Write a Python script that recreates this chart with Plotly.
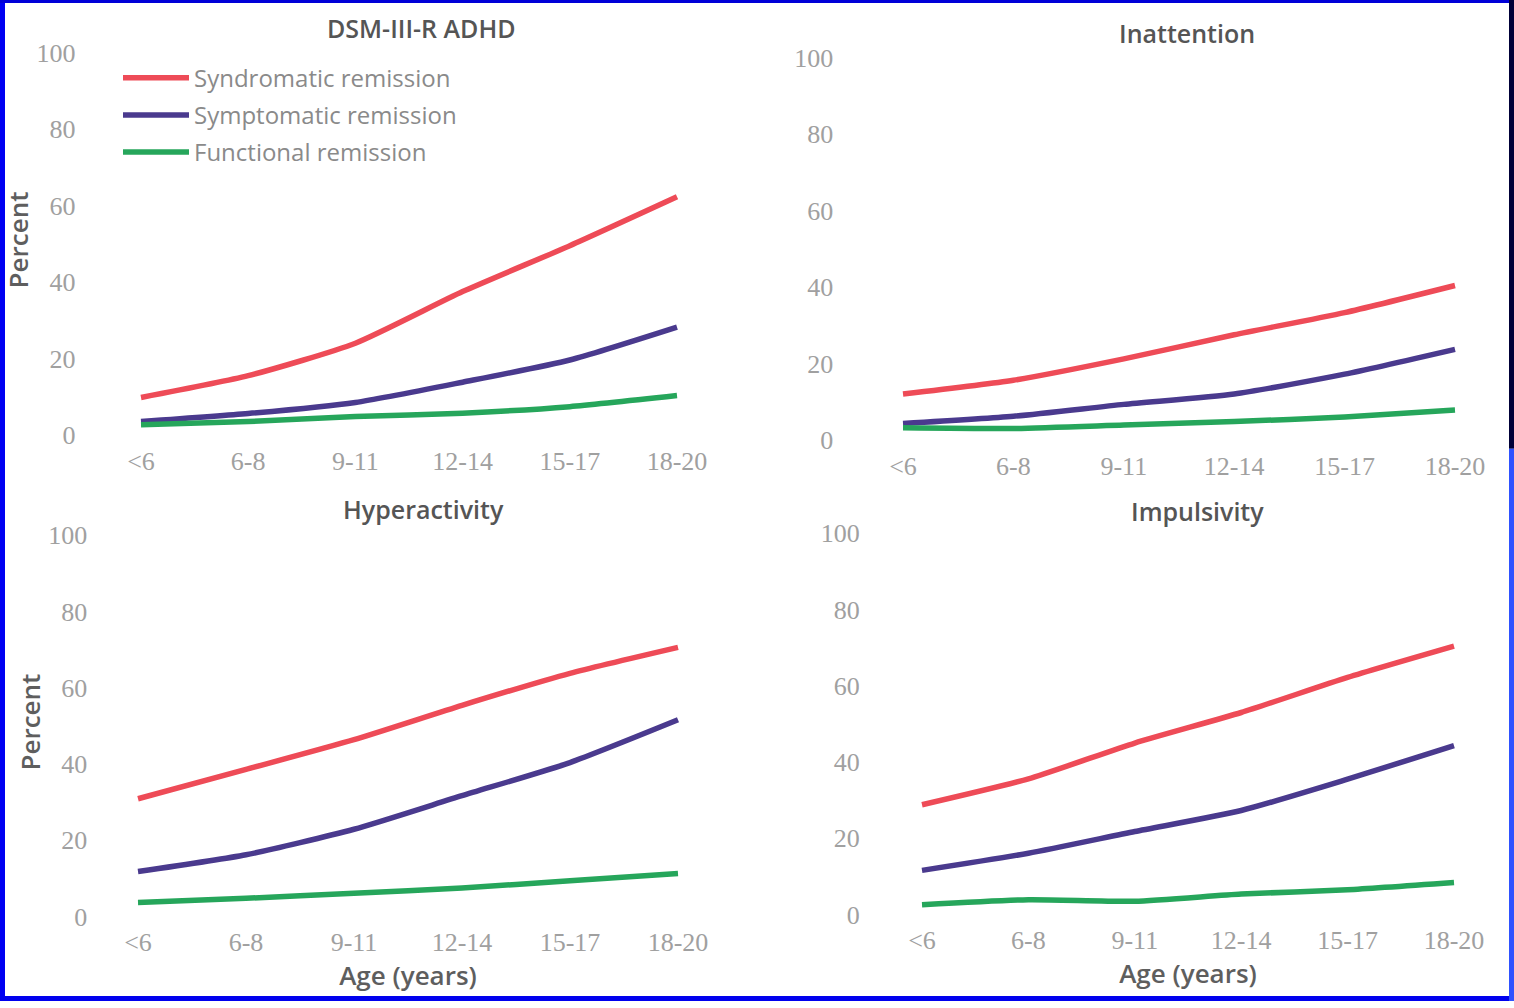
import plotly.graph_objects as go

W, H = 1514, 1008

age_groups = ["<6", "6-8", "9-11", "12-14", "15-17", "18-20"]
series_names = ["Syndromatic remission", "Symptomatic remission", "Functional remission"]
series_colors = ["#ee4b57", "#4a3a8e", "#26a65b"]

panel_titles = ["DSM-III-R ADHD", "Inattention", "Hyperactivity", "Impulsivity"]

# percent in remission by age group: [syndromatic, symptomatic, functional]
adhd_total = [
    [9.8, 15.5, 24.0, 37.5, 49.5, 62.3],
    [3.5, 5.6, 8.5, 13.8, 19.6, 28.2],
    [2.7, 3.5, 4.8, 5.7, 7.4, 10.3],
]
inattention = [
    [12.0, 15.6, 21.2, 27.5, 33.3, 40.4],
    [4.3, 6.2, 9.3, 12.0, 17.2, 23.7],
    [3.2, 3.0, 3.9, 4.8, 6.0, 7.8],
]
hyperactivity = [
    [30.9, 38.6, 46.4, 55.4, 63.8, 70.6],
    [11.8, 16.2, 22.9, 31.7, 40.4, 51.6],
    [3.7, 4.8, 6.1, 7.5, 9.4, 11.3],
]
impulsivity = [
    [28.8, 35.6, 45.0, 53.0, 62.2, 70.4],
    [11.6, 16.1, 21.8, 27.3, 35.5, 44.3],
    [2.6, 3.9, 3.5, 5.4, 6.5, 8.4],
]
panels = [adhd_total, inattention, hyperactivity, impulsivity]

y_ticks = [0, 20, 40, 60, 80, 100]

XR = (-0.35, 5.35)
YR = (-2.0, 104.0)

# pixel anchors per panel:
# (x of first group, x of last group, y of 0%, y of 100%, tick standoff, y-title standoff)
anchors = [
    (141, 677, 438, 53, 27, 2),
    (903, 1455, 443, 58, 30, 2),
    (138, 678, 923, 539, 12, 0),
    (922, 1454, 921, 537, 24, 2),
]


def domains(x0, x5, y0, y100):
    sx = (x5 - x0) / 5.0
    left = x0 + XR[0] * sx
    right = x0 + XR[1] * sx
    sy = (y0 - y100) / 100.0
    bottom = y0 - YR[0] * sy
    top = y0 - YR[1] * sy
    return [left / W, right / W], [1 - bottom / H, 1 - top / H]


tick_font = dict(family="Liberation Serif", size=26, color="#a0a0a0")
label_font = dict(family="Open Sans", size=26, color="#5e5e5e", weight=600)

fig = go.Figure()
layout = {}
for i, (data, (x0, x5, y0, y100, stand, tstand)) in enumerate(zip(panels, anchors)):
    n = i + 1
    xa = "x" if n == 1 else f"x{n}"
    ya = "y" if n == 1 else f"y{n}"
    xdom, ydom = domains(x0, x5, y0, y100)
    for k in range(3):
        fig.add_trace(go.Scatter(
            x=list(range(len(age_groups))), y=data[k],
            mode="lines", name=series_names[k],
            line=dict(color=series_colors[k], width=5.5, shape="spline", smoothing=0.6),
            xaxis=xa, yaxis=ya, legendgroup=series_names[k],
            showlegend=(n == 1), hoverinfo="skip",
        ))
    layout[f"xaxis{'' if n == 1 else n}"] = dict(
        domain=xdom, range=list(XR), anchor=ya,
        tickmode="array", tickvals=list(range(len(age_groups))), ticktext=age_groups,
        showgrid=False, zeroline=False, showline=False, ticks="",
        tickfont=tick_font, fixedrange=True,
        title=dict(text="Age (years)" if n >= 3 else "", font=label_font, standoff=6),
    )
    layout[f"yaxis{'' if n == 1 else n}"] = dict(
        domain=ydom, range=list(YR), anchor=xa,
        tickmode="array", tickvals=y_ticks,
        showgrid=False, zeroline=False, showline=False, ticks="",
        tickfont=tick_font, ticklabelstandoff=stand, fixedrange=True,
        title=dict(text="Percent" if n in (1, 3) else "", font=label_font, standoff=tstand),
    )

fig.update_layout(**layout)

title_pos = [(421, 28), (1187, 33), (423, 513), (1197, 515)]
for t, (px, py) in zip(panel_titles, title_pos):
    fig.add_annotation(
        text=t, x=px / W, y=1 - py / H, xref="paper", yref="paper",
        showarrow=False, xanchor="center", yanchor="middle",
        font=dict(family="Open Sans", size=25, color="#555555", weight=600),
    )

# blue frame around the slide
frame = [
    (0, 0, 5, H, "#0000f2"),
    (0, 0, W, 3, "#0000d8"),
    (0, 1003, W, H, "#0000ee"),
    (1509, 0, W, 452, "#000038"),
    (1509, 452, W, H, "#2f52ff"),
]
for xa0, ya0, xa1, ya1, c in frame:
    fig.add_shape(type="rect", xref="paper", yref="paper",
                  x0=xa0 / W, x1=xa1 / W, y0=1 - ya1 / H, y1=1 - ya0 / H,
                  fillcolor=c, line=dict(width=0), layer="above")

fig.update_layout(
    width=W, height=H,
    margin=dict(l=0, r=0, t=0, b=0),
    paper_bgcolor="white", plot_bgcolor="rgba(0,0,0,0)",
    showlegend=True,
    legend=dict(
        x=118 / W, y=1 - 56 / H, xanchor="left", yanchor="top",
        bgcolor="rgba(0,0,0,0)", traceorder="grouped", tracegroupgap=3,
        itemwidth=66,
        font=dict(family="Open Sans", size=24, color="#8a8a8a"),
    ),
)

fig.write_html("out.html")
